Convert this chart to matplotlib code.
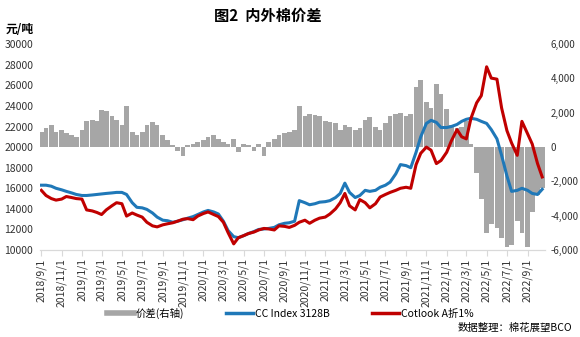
import matplotlib
matplotlib.use('Agg')
import matplotlib.pyplot as plt
import matplotlib.dates as mdates
from matplotlib.lines import Line2D
from matplotlib.ticker import FuncFormatter
import pandas as pd

plt.rcParams['font.family'] = ['Noto Sans CJK SC', 'DejaVu Sans']

# half-monthly readings, 2018/9/1 .. 2022/10/15
dates = pd.date_range('2018-09-01', '2022-10-15', freq='SMS')

cc_index = [16300, 16300, 16200, 16000, 15850, 15700, 15550, 15400, 15300, 15300,
            15350, 15400, 15450, 15500, 15550, 15600, 15600, 15400, 14600, 14150,
            14100, 13950, 13600, 13200, 12900, 12850, 12700, 12800, 12950, 13100,
            13250, 13450, 13700, 13850, 13700, 13500, 12800, 11900, 11300, 11200,
            11400, 11600, 11800, 12000, 12050, 12100, 12200, 12450, 12600, 12650,
            12800, 14800, 14600, 14400, 14500, 14650, 14700, 14800, 15100, 15500,
            16500, 15600, 15100, 15300, 15800, 15700, 15800, 16100, 16300, 16600,
            17400, 18300, 18200, 18000, 19500, 21000, 22300, 22600, 22400, 21900,
            21900, 22000, 22200, 22500, 22700, 22800, 22700, 22500, 22300, 21700,
            20800, 19200, 17200, 15700, 15800, 16000, 15800, 15500, 15400, 15900]

cotlook = [15800, 15300, 15000, 14850, 14950, 15200, 15100, 15000, 14950, 13900,
           13800, 13650, 13450, 13900, 14300, 14600, 14500, 13300, 13600, 13400,
           13200, 12700, 12350, 12250, 12450, 12550, 12650, 12800, 13000, 13050,
           12950, 13300, 13550, 13700, 13450, 13250, 12700, 11700, 10600, 11200,
           11400, 11600, 11750, 11950, 12100, 12050, 11950, 12350, 12300, 12200,
           12400, 12700, 12900, 12600, 12900, 13100, 13200, 13500, 14000, 14600,
           15500, 14300, 13900, 14900, 14600, 14100, 14500, 15150, 15400, 15600,
           15800, 16000, 16100, 16000, 18300, 19400, 20000, 19700, 18400, 18700,
           19500, 20600, 21700, 21000, 20800, 22800, 24300, 25000, 27800, 26700,
           26600, 23800, 21600, 20400, 19200, 22500, 21300, 20300, 18400, 17100]

spread = [900, 1100, 1300, 900, 1000, 800, 700, 600, 1000, 1500,
          1600, 1500, 2150, 2100, 1800, 1600, 1300, 2400, 900, 700,
          900, 1300, 1450, 1300, 700, 400, 100, -200, -500, 100,
          200, 300, 400, 600, 700, 500, 300, 200, 500, -300,
          200, 100, -200, 200, -500, 300, 500, 700, 800, 900,
          1000, 2400, 1800, 1900, 1850, 1800, 1500, 1450, 1400, 1000,
          1300, 1200, 1000, 1100, 1600, 1750, 1200, 1000, 1400, 1800,
          1900, 2000, 1800, 1900, 3500, 3900, 2600, 2300, 3700, 3100,
          2200, 1300, 1100, 1200, 1500, 200, -1500, -3000, -5000, -4500,
          -4700, -5300, -5800, -5700, -4300, -5000, -5800, -3800, -2800, -2400]

legend_labels = ['价差(右轴)', 'CC Index 3128B', 'Cotlook A折1%']

fig = plt.figure(figsize=(5.8, 3.37), dpi=100)
ax = fig.add_axes([0.069, 0.258, 0.871, 0.611])
ax2 = ax.twinx()

ax2.bar(dates, spread, width=14, color='#a6a6a6', linewidth=0)
ax.plot(dates, cc_index, color='#1f78b8', lw=2.2)
ax.plot(dates, cotlook, color='#c00000', lw=2.2)

ax.set_zorder(ax2.get_zorder() + 1)
ax.patch.set_visible(False)

ax.set_ylim(10000, 30000)
ax.set_yticks(range(10000, 30001, 2000))
ax2.set_ylim(-6000, 6000)
ax2.set_yticks(range(-6000, 6001, 2000))
ax2.yaxis.set_major_formatter(FuncFormatter(lambda v, p: f'{int(v):,}'))

ax.set_xlim(pd.Timestamp('2018-08-28'), pd.Timestamp('2022-10-24'))
ax.xaxis.set_major_locator(mdates.MonthLocator(bymonth=[1, 3, 5, 7, 9, 11]))
ax.xaxis.set_major_formatter(FuncFormatter(
    lambda v, p: '{}/{}/1'.format(mdates.num2date(v).year, mdates.num2date(v).month)))

for a in (ax, ax2):
    for s in ('top', 'left', 'right'):
        a.spines[s].set_visible(False)
    a.spines['bottom'].set_color('#d9d9d9')
ax.tick_params(axis='y', length=0, labelsize=7.5, pad=5, labelcolor='#333333')
ax2.tick_params(axis='y', length=0, labelsize=7, pad=4, labelcolor='#333333')
ax.tick_params(axis='x', length=4, color='#d9d9d9', labelrotation=90,
               labelsize=7.5, labelcolor='#333333', pad=2)

fig.text(0.462, 0.953, '图2  内外棉价差', ha='center', va='center',
         fontsize=11, fontweight='bold')
fig.text(0.01, 0.911, '元/吨', ha='left', va='center', fontsize=8.5, fontweight='bold')

handles = [Line2D([], [], color='#a6a6a6', lw=4),
           Line2D([], [], color='#1f78b8', lw=2.5),
           Line2D([], [], color='#c00000', lw=2.5)]
fig.legend(handles, legend_labels, loc='center', bbox_to_anchor=(0.5, 0.071),
           ncol=3, frameon=False, fontsize=7.5, handlelength=2.6,
           columnspacing=4, handletextpad=0.2)

fig.text(0.986, 0.027, '数据整理：棉花展望BCO', ha='right', va='center', fontsize=7.5)

fig.savefig('out.png', dpi=100)
